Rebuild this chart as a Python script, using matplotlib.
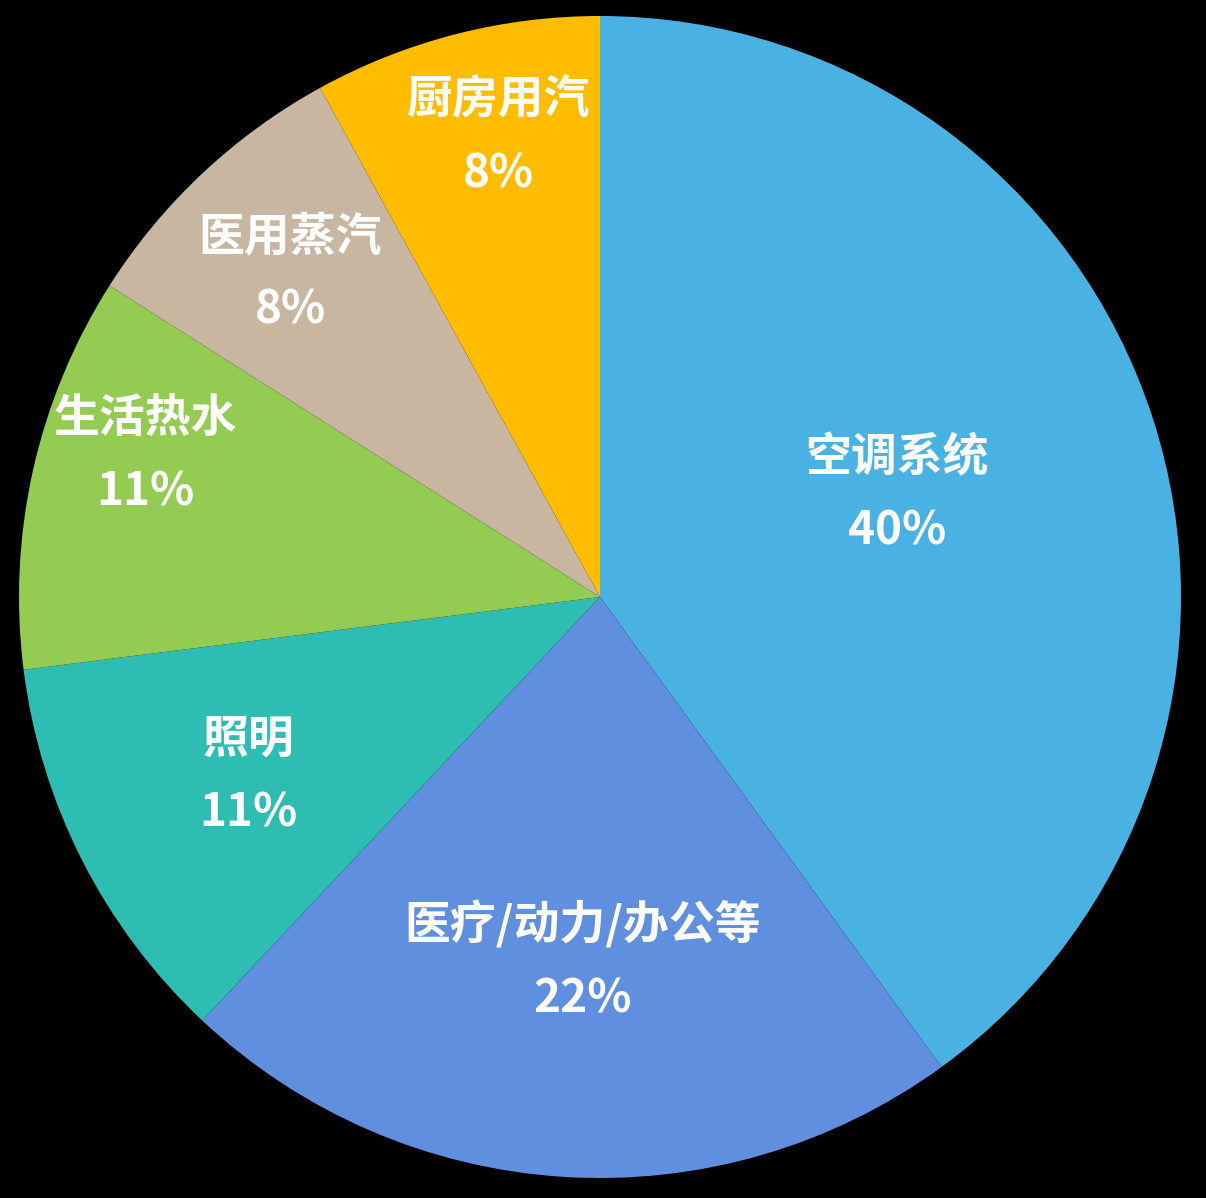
import numpy as np
import matplotlib
matplotlib.use("Agg")
import matplotlib.pyplot as plt

plt.rcParams['font.family'] = ['Noto Sans CJK SC', 'DejaVu Sans']

categories = ['空调系统', '医疗/动力/办公等', '照明', '生活热水', '医用蒸汽', '厨房用汽']
values = [40, 22, 11, 11, 8, 8]
pct_labels = ['40%', '22%', '11%', '11%', '8%', '8%']
colors = ['#4AB2E2', '#618FDF', '#2DBDB3', '#94CB52', '#C9B6A1', '#FFBC00']

# label layout (radius fraction, angle shift in degrees)
label_r = [0.54, 0.63, 0.68, 0.82, 0.77, 0.81]
label_shift = [1.0, 0.9, 0.0, -4.6, 0.6, -1.9]

W, H = 1206, 1198
cx, cy, R = 600, 597, 581
fig = plt.figure(figsize=(W / 100, H / 100), dpi=100, facecolor='black')
ax = fig.add_axes([0, 0, 1, 1])
ax.set_facecolor('black')

wedges, _ = ax.pie(values, colors=colors, startangle=90, counterclock=False,
                   radius=1.0, wedgeprops=dict(linewidth=0))

for w, name, pct, r, sh in zip(wedges, categories, pct_labels, label_r, label_shift):
    mid = np.deg2rad((w.theta1 + w.theta2) / 2 + sh)
    x, y = r * np.cos(mid), r * np.sin(mid)
    ax.annotate(name, (x, y), xytext=(0, 26.5), textcoords='offset points',
                ha='center', va='center', color='white', fontsize=33,
                fontweight='heavy')
    ax.annotate(pct, (x, y), xytext=(0, -26.5), textcoords='offset points',
                ha='center', va='center', color='white', fontsize=33,
                fontweight='heavy')

ax.set_xlim(-cx / R, (W - cx) / R)
ax.set_ylim(-(H - cy) / R, cy / R)
ax.set_aspect('auto')
ax.axis('off')

fig.savefig('out.png', dpi=100, facecolor='black')
